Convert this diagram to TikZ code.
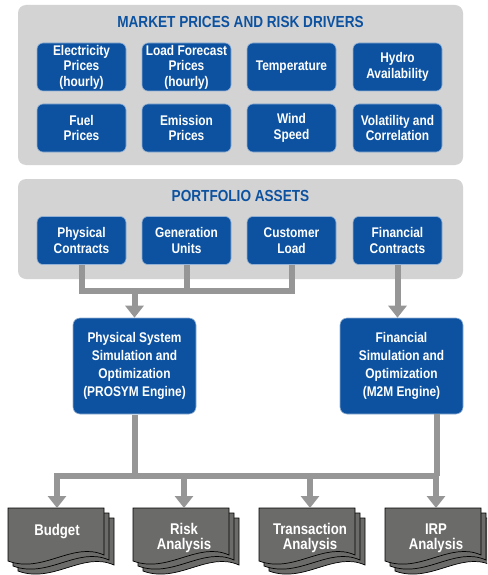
\documentclass[tikz,border=0pt]{standalone}
\usepackage{fontspec}
\setmainfont{Liberation Sans}[FakeStretch=0.85]
\usetikzlibrary{arrows.meta}
\definecolor{cblue}{HTML}{0D52A0}
\definecolor{cpanel}{HTML}{D3D3D3}
\definecolor{cconn}{HTML}{969696}
\definecolor{cdoc}{HTML}{6B6C6A}
\tikzset{
  panel/.style={fill=cpanel, rounded corners=8pt, minimum width=445pt, inner sep=0pt},
  ptitle/.style={text=cblue, font=\bfseries\fontsize{16}{18}\selectfont, inner sep=0pt},
  bbox/.style={fill=cblue, draw=cblue!45!white, line width=0.6pt, text=white, rounded corners=6pt,
    minimum width=89pt, minimum height=48pt,
    align=center, inner sep=0pt, font=\bfseries\fontsize{14}{15.5}\selectfont},
  engine/.style={fill=cblue, draw=cblue!45!white, line width=0.6pt, text=white, rounded corners=7pt,
    minimum width=123pt, minimum height=96pt,
    align=center, inner sep=0pt, font=\bfseries\fontsize{14}{18}\selectfont},
  conn/.style={draw=cconn, line width=6pt},
  arr/.style={-{Triangle[width=18pt,length=12pt]}},
  docpg/.style={fill=cdoc, draw=black, line width=0.7pt},
  doctext/.style={text=white, align=center, inner sep=0pt, minimum width=96pt, anchor=north,
    font=\bfseries\fontsize{15.5}{15}\selectfont},
}
\newcommand\docpage[2]{%
  \filldraw[docpg] (#1,#2) -- (#1+96,#2) -- (#1+96,#2+47)
    .. controls (#1+65,#2+33) and (#1+35,#2+66) .. (#1,#2+53) -- cycle;}
\newcommand\docstack[2]{\docpage{#1+10}{#2+10}\docpage{#1+5}{#2+5}\docpage{#1}{#2}}
\begin{document}
\begin{tikzpicture}[x=1pt,y=-1pt]
\useasboundingbox (0,0) rectangle (487,575);
\clip (0,0) rectangle (487,575);
% panels
\node[panel, minimum height=160pt] (p1) at (240.5,85) {};
\node[ptitle] (t1) at (240.5,22) {MARKET PRICES AND RISK DRIVERS};
\node[panel, minimum height=100pt] (p2) at (240.5,229) {};
\node[ptitle] (t2) at (240.5,196) {PORTFOLIO ASSETS};
% market boxes
\node[bbox] (elec) at (81.5,67) {Electricity\\Prices\\(hourly)};
\node[bbox] (load) at (186.5,67) {Load Forecast\\Prices\\(hourly)};
\node[bbox] (temp) at (291.5,67) {Temperature};
\node[bbox] (hydro) at (397.5,67) {Hydro\\Availability};
\node[bbox] (fuel) at (81.5,128) {Fuel\\Prices};
\node[bbox] (emis) at (186.5,128) {Emission\\Prices};
\node[bbox] (wind) at (291.5,128) {Wind\\Speed};
\node[bbox] (vol) at (397.5,128) {Volatility and\\Correlation};
% assets
\node[bbox] (pc) at (81.5,240.5) {Physical\\Contracts};
\node[bbox] (gu) at (186.5,240.5) {Generation\\Units};
\node[bbox] (cl) at (291.5,240.5) {Customer\\Load};
\node[bbox] (fc) at (397.5,240.5) {Financial\\Contracts};
% engines
\node[engine] (prosym) at (134.5,366) {Physical System\\Simulation and\\Optimization\\(PROSYM Engine)};
\node[engine] (m2m) at (401.5,366) {Financial\\Simulation and\\Optimization\\(M2M Engine)};
% documents
\docstack{8}{508}
\docstack{133}{508}
\docstack{259}{508}
\docstack{385}{508}
\node[doctext, minimum height=46pt] (budget) at (57,508) {Budget};
\node[doctext, minimum height=60pt] (risk) at (184,508) {Risk\\Analysis};
\node[doctext, minimum height=60pt] (trans) at (310,508) {Transaction\\Analysis};
\node[doctext, minimum height=60pt] (irp) at (436,508) {IRP\\Analysis};
% connectors top
\coordinate (j1) at (134.5,291);
\draw[conn] ([yshift=-0.5pt]pc.south) |- (cl.south |- j1) -- ([yshift=-0.5pt]cl.south);
\draw[conn] ([yshift=-0.5pt]gu.south) -- (gu.south |- j1);
\draw[conn, arr] (j1) -- (prosym.north);
\draw[conn, arr] ([yshift=-0.5pt]fc.south) -- (fc.south |- m2m.north);
% connectors bottom
\coordinate (b1) at (134.5,476);
\coordinate (m2mout) at (437,414);
\draw[conn] ([yshift=-0.5pt]prosym.south) -- (b1);
\draw[conn] (m2mout) -- (m2mout |- b1);
\draw[conn, {Triangle[width=18pt,length=12pt]}-{Triangle[width=18pt,length=12pt]}]
  (budget.north) |- (b1) -| (irp.north);
\draw[conn, arr] (risk.north |- b1) -- (risk.north);
\draw[conn, arr] (trans.north |- b1) -- (trans.north);
\end{tikzpicture}
\end{document}
